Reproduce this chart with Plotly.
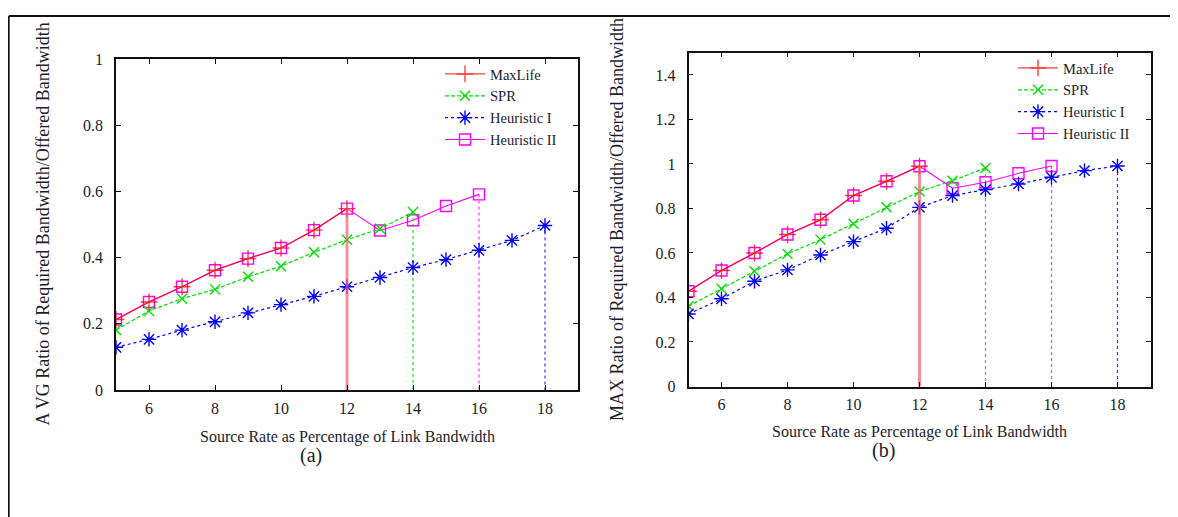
import plotly.graph_objects as go

# ---------------- data ----------------
x_maxlife = [5, 6, 7, 8, 9, 10, 11, 12]
x_spr = [5, 6, 7, 8, 9, 10, 11, 12, 13, 14]
x_h1 = [5, 6, 7, 8, 9, 10, 11, 12, 13, 14, 15, 16, 17, 18]
x_h2 = [5, 6, 7, 8, 9, 10, 11, 12, 13, 14, 15, 16]

# (a) AVG ratio
avg_maxlife = [0.213, 0.266, 0.312, 0.362, 0.397, 0.429, 0.483, 0.548]
avg_spr = [0.181, 0.239, 0.276, 0.304, 0.342, 0.374, 0.416, 0.454, 0.487, 0.538]
avg_h1 = [0.129, 0.153, 0.181, 0.206, 0.233, 0.258, 0.283, 0.312, 0.340, 0.370,
          0.394, 0.422, 0.452, 0.497]
avg_h2 = [0.213, 0.266, 0.312, 0.362, 0.397, 0.429, 0.483, 0.548, 0.482, 0.513,
          0.556, 0.591]

# (b) MAX ratio
max_maxlife = [0.428, 0.521, 0.600, 0.683, 0.749, 0.858, 0.922, 0.990]
max_spr = [0.361, 0.439, 0.518, 0.596, 0.660, 0.731, 0.805, 0.876, 0.925, 0.982]
max_h1 = [0.326, 0.394, 0.473, 0.524, 0.591, 0.651, 0.711, 0.805, 0.858, 0.885,
          0.910, 0.940, 0.970, 0.991]
max_h2 = [0.428, 0.521, 0.600, 0.683, 0.749, 0.858, 0.922, 0.990, 0.891, 0.918,
          0.958, 0.991]

x_ticks = [6, 8, 10, 12, 14, 16, 18]
y_ticks_a = [0, 0.2, 0.4, 0.6, 0.8, 1]
y_ticks_b = [0, 0.2, 0.4, 0.6, 0.8, 1, 1.2, 1.4]

# ---------------- style ----------------
W, H = 1178, 517
OFF = 8  # the page body adds an 8px margin around the figure
FONT = "Liberation Serif, Times New Roman, serif"
TXT = "#1c1c2a"
C_RED = "#ff0000"
C_GREEN = "#00e000"
C_BLUE = "#0000ff"
C_MAG = "#ff00ff"


def px(v):
    return (v - OFF) / W


def py(v):
    return 1 - (v - OFF) / H


fig = go.Figure()


def add_panel(xa, ya, legend, series):
    for (name, xs, ys, col, dash, sym, size, lw, rank, drop, opac) in series:
        fig.add_trace(go.Scatter(
            x=xs, y=ys, name=name, mode="lines+markers",
            xaxis=xa, yaxis=ya, legend=legend, legendrank=rank,
            opacity=opac,
            line=dict(color=col, width=lw, dash=dash),
            marker=dict(symbol=sym, size=size, color=col,
                        line=dict(color=col, width=1.4)),
        ))
        # vertical drop at the last data point down to zero
        dcol, dw, ddash, dop = drop
        fig.add_trace(go.Scatter(
            x=[xs[-1], xs[-1]], y=[ys[-1], 0], mode="lines",
            xaxis=xa, yaxis=ya, showlegend=False, hoverinfo="skip",
            opacity=dop,
            line=dict(color=dcol, width=dw, dash=ddash),
        ))


def series_for(ml, spr, h1, h2):
    return [
        ("Heuristic II", x_h2, h2, C_MAG, "solid", "square-open", 11, 1.1, 4,
         (C_MAG, 1.2, "dot", 0.8), 1.0),
        ("SPR", x_spr, spr, C_GREEN, "4px,2px", "x-thin-open", 10, 1.2, 2,
         (C_GREEN, 1.2, "dot", 0.9), 1.0),
        ("Heuristic I", x_h1, h1, C_BLUE, "dot", "asterisk-open", 12, 1.2, 3,
         (C_BLUE, 1.2, "dot", 0.8), 1.0),
        ("MaxLife", x_maxlife, ml, C_RED, "solid", "cross-thin-open", 12, 1.3, 1,
         ("#f06070", 3, "solid", 0.7), 0.75),
    ]


add_panel("x", "y", "legend", series_for(avg_maxlife, avg_spr, avg_h1, avg_h2))
add_panel("x2", "y2", "legend2", series_for(max_maxlife, max_spr, max_h1, max_h2))

axis_common = dict(
    showline=True, linecolor="#111", linewidth=1.5, mirror="allticks",
    ticks="inside", ticklen=5, tickwidth=1.2, tickcolor="#111",
    showgrid=False, zeroline=False, automargin=False,
    tickfont=dict(family=FONT, size=16, color=TXT),
)
xaxis_common = dict(axis_common, ticklabelstandoff=3)
yaxis_common = dict(axis_common, ticklabelstandoff=8)

legend_common = dict(
    xanchor="right", yanchor="top", bgcolor="rgba(0,0,0,0)",
    font=dict(family=FONT, size=14.5, color=TXT), itemwidth=40, tracegroupgap=0,
)

fig.update_layout(
    width=W, height=H,
    margin=dict(l=0, r=0, t=0, b=0, pad=0, autoexpand=False),
    paper_bgcolor="white", plot_bgcolor="white",
    font=dict(family=FONT, size=15, color=TXT),
    xaxis=dict(domain=[px(116), px(578)], range=[5, 19], anchor="y",
               tickvals=x_ticks, **xaxis_common),
    yaxis=dict(domain=[py(390), py(59)], range=[0, 1], anchor="x",
               tickvals=y_ticks_a, ticktext=[f"{v:g}" for v in y_ticks_a],
               **yaxis_common),
    xaxis2=dict(domain=[px(688.5), px(1150.5)], range=[5, 19], anchor="y2",
                tickvals=x_ticks, **xaxis_common),
    yaxis2=dict(domain=[py(386.5), py(52.7)], range=[0, 1.5], anchor="x2",
                tickvals=y_ticks_b, ticktext=[f"{v:g}" for v in y_ticks_b],
                **yaxis_common),
    legend=dict(x=px(562), y=py(58), **legend_common),
    legend2=dict(x=px(1135), y=py(52), **legend_common),
    showlegend=True,
)

ann_font = dict(family=FONT, size=16, color=TXT)
ytitle_font = dict(family=FONT, size=18, color=TXT)


def note(text, x, y, font, angle=0):
    fig.add_annotation(text=text, xref="paper", yref="paper", x=px(x), y=py(y),
                       xanchor="center", yanchor="middle", showarrow=False,
                       textangle=angle, font=font)


note("Source Rate as Percentage of Link Bandwidth", 347, 437, ann_font)
note("(a)", 311, 455, dict(family=FONT, size=20, color=TXT))
note("Source Rate as Percentage of Link Bandwidth", 919.5, 432, ann_font)
note("(b)", 883, 450, dict(family=FONT, size=20, color=TXT))
note("A VG Ratio of Required Bandwidth/Offered Bandwidth", 43, 224.5, ytitle_font, -90)
note("MAX Ratio of Required Bandwidth/Offered Bandwidth", 617, 220, ytitle_font, -90)

# page frame (top and left edges)
fig.add_shape(type="line", xref="paper", yref="paper", x0=px(8.8), x1=1, y0=py(16), y1=py(16),
              line=dict(color="#111", width=1.8))
fig.add_shape(type="line", xref="paper", yref="paper", x0=px(8.8), x1=px(8.8), y0=0, y1=py(16),
              line=dict(color="#111", width=1.8))

fig.write_html("out.html")
